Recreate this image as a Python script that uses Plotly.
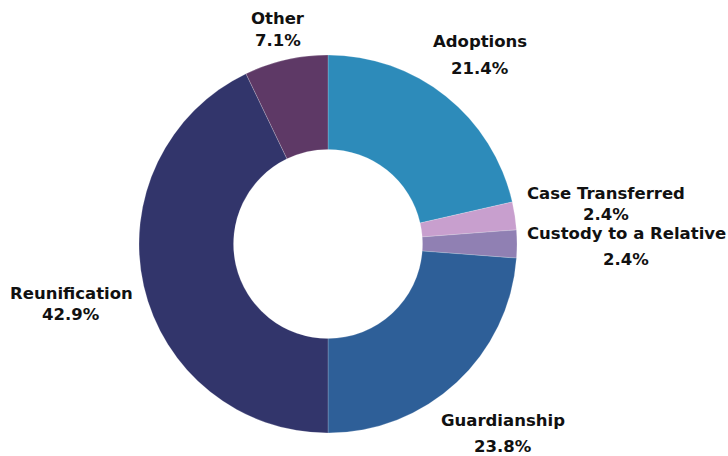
import plotly.graph_objects as go

categories = ["Adoptions", "Case Transferred", "Custody to a Relative",
              "Guardianship", "Reunification", "Other"]
values = [9, 1, 1, 10, 18, 3]
pct_labels = ["21.4%", "2.4%", "2.4%", "23.8%", "42.9%", "7.1%"]
colors = ["#2D8BBA", "#C89FCE", "#9080B3", "#2E5F98", "#32356B", "#5E3966"]

W, H = 728, 456
# label line positions (pixel centres): (x, y_name, y_pct)
label_pos = [(480, 42, 69), (606, 193, 214), (626, 233, 259),
             (503, 420, 446), (71, 293, 314), (278, 18, 40)]

fig = go.Figure(go.Pie(
    labels=categories, values=values, hole=0.5, sort=False,
    direction="clockwise", rotation=0, textinfo="none",
    marker=dict(colors=colors, line=dict(color="rgba(255,255,255,0.4)", width=0.5)),
    domain=dict(x=[139 / W, 517 / W], y=[1 - 433 / H, 1 - 55 / H]),
    showlegend=False, hoverinfo="label+percent",
))

font = dict(family="DejaVu Sans, sans-serif", size=16.5, color="#111111", weight=700)
ann = []
for name, pct, (px, py1, py2) in zip(categories, pct_labels, label_pos):
    ann.append(dict(x=px / W, y=1 - py1 / H, xref="paper", yref="paper", text=name,
                    showarrow=False, font=font, xanchor="center", yanchor="middle"))
    ann.append(dict(x=px / W, y=1 - py2 / H, xref="paper", yref="paper", text=pct,
                    showarrow=False, font=font, xanchor="center", yanchor="middle"))

fig.update_layout(width=W, height=H, margin=dict(l=0, r=0, t=0, b=0),
                  paper_bgcolor="white", plot_bgcolor="white", annotations=ann)
fig.write_html("out.html", config={"displayModeBar": False},
               post_script="document.body.style.margin='0';document.body.style.padding='0';")
